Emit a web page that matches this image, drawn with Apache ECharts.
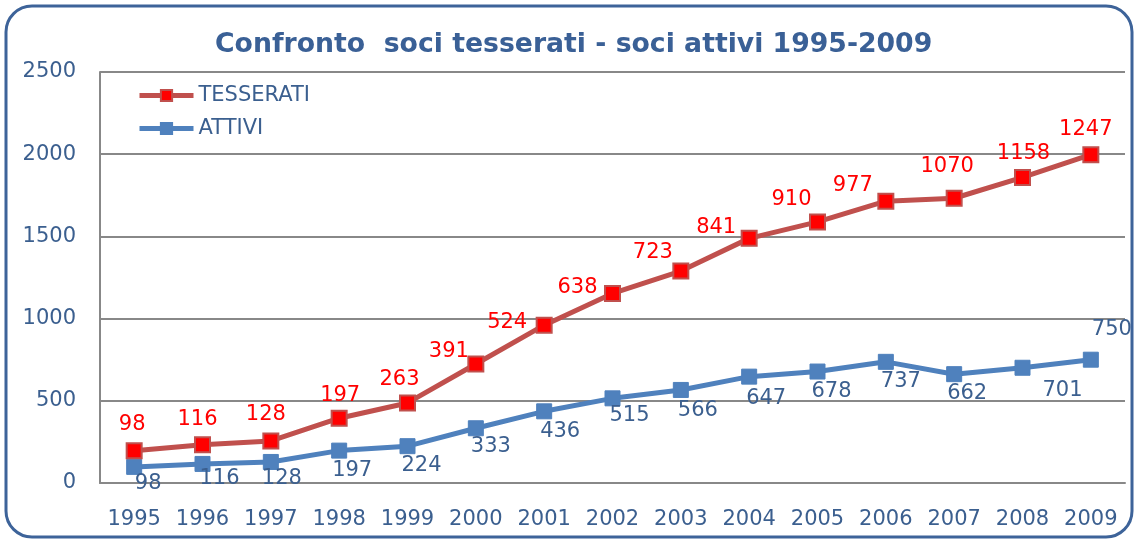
<!DOCTYPE html>
<html>
<head>
<meta charset="utf-8">
<script src="https://cdn.jsdelivr.net/npm/echarts@6/dist/echarts.min.js"></script>
<style>
html,body{margin:0;padding:0;background:#fff;}
#chart{width:1135px;height:539px;}
</style>
</head>
<body>
<div id="chart"></div>
<script>
// dati
var anni = ['1995','1996','1997','1998','1999','2000','2001','2002','2003','2004','2005','2006','2007','2008','2009'];
var attivi = [98,116,128,197,224,333,436,515,566,647,678,737,662,701,750];
var tesserati = [98,116,128,197,263,391,524,638,723,841,910,977,1070,1158,1247];

// spostamento etichette (come nel grafico originale)
var offTess = [[-2,-2],[-5,-1],[-5,-2],[1,1],[-8,1],[-27,12],[-37,21],[-35,18],[-28,5],[-33,13],[-26,2],[-33,8],[-7,-8],[1,0],[-5,-1]];
var offAtt = [[14,-7],[17,-9],[11,-7],[13,-4],[14,-4],[15,-5],[16,-3],[17,-6],[17,-3],[17,-2],[14,-3],[15,-4],[13,-4],[40,-1],[21,-54]];

var font = 'DejaVu Sans';
var blu = '#3b5f8f';

function items(vals, offs) {
    var out = [];
    for (var i = 0; i < vals.length; i++) {
        out.push({value: vals[i], label: {offset: offs[i]}});
    }
    return out;
}

var myChart = echarts.init(document.getElementById('chart'));
myChart.setOption({
    animation: false,
    title: {
        text: 'Confronto  soci tesserati - soci attivi 1995-2009',
        left: 210,
        top: 27,
        textStyle: {color: '#3a6096', fontFamily: font, fontSize: 26.7, fontWeight: 'bold'}
    },
    graphic: [{
        type: 'rect',
        shape: {x: 6, y: 6, width: 1126, height: 531, r: 26},
        style: {fill: 'none', stroke: '#3d6399', lineWidth: 3},
        z: 100
    }],
    legend: {
        orient: 'vertical',
        left: 132,
        top: 80,
        itemWidth: 54,
        itemHeight: 14,
        itemGap: 12,
        textStyle: {color: blu, fontFamily: font, fontSize: 21},
        data: [
            {name: 'TESSERATI', lineStyle: {width: 5}},
            {name: 'ATTIVI', lineStyle: {width: 5}}
        ]
    },
    grid: {left: 100, right: 10, top: 72, bottom: 56},
    xAxis: {
        type: 'category',
        data: anni,
        boundaryGap: true,
        axisLine: {lineStyle: {color: '#888', width: 2}},
        axisTick: {show: false},
        axisLabel: {color: blu, fontFamily: font, fontSize: 21, margin: 26, interval: 0}
    },
    yAxis: {
        type: 'value',
        min: 0,
        max: 2500,
        interval: 500,
        axisLine: {show: true, lineStyle: {color: '#888', width: 2}},
        axisTick: {show: false},
        axisLabel: {
            color: blu, fontFamily: font, fontSize: 21, margin: 24,
            formatter: function (v) { return String(v); }
        },
        splitLine: {lineStyle: {color: '#888', width: 2}}
    },
    series: [
        {
            name: 'ATTIVI',
            type: 'line',
            stack: 'tot',
            data: items(attivi, offAtt),
            symbol: 'rect',
            symbolSize: 15,
            lineStyle: {color: '#4f81bd', width: 5},
            itemStyle: {color: '#4f81bd', borderColor: '#4f81bd', borderWidth: 1},
            label: {show: true, position: 'bottom', color: blu, fontFamily: font, fontSize: 21}
        },
        {
            name: 'TESSERATI',
            type: 'line',
            stack: 'tot',
            data: items(tesserati, offTess),
            symbol: 'rect',
            symbolSize: 15,
            lineStyle: {color: '#c0504d', width: 5},
            itemStyle: {color: '#ff0000', borderColor: '#c0504d', borderWidth: 2},
            label: {show: true, position: 'top', color: '#ff0000', fontFamily: font, fontSize: 21}
        }
    ]
});
</script>
</body>
</html>
